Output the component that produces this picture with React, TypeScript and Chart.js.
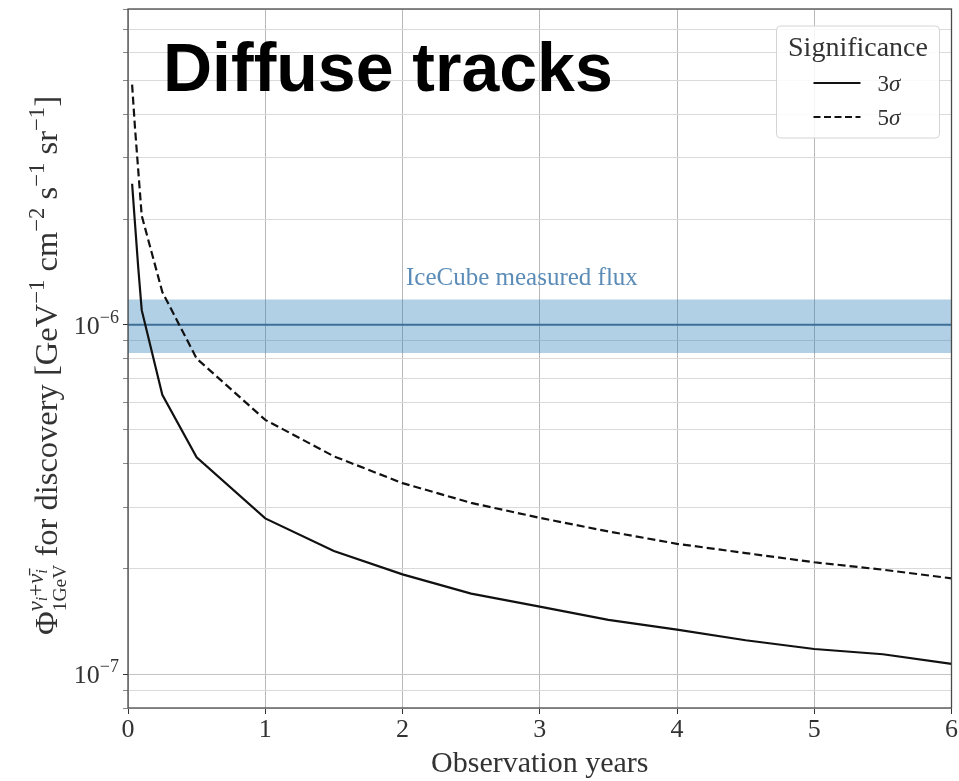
import React, { useEffect, useRef } from 'react';
import { Chart, registerables } from 'chart.js';

Chart.register(...registerables);

// ---- data ----
const YEARS_3SIGMA = [0.03, 0.05, 0.075, 0.1, 0.25, 0.5, 1, 1.5, 2, 2.5, 3, 3.5, 4, 4.5, 5, 5.5, 6];
const FLUX_3SIGMA = [2.53e-6, 1.97e-6, 1.45e-6, 1.1e-6, 0.63e-6, 0.417e-6, 0.279e-6, 0.225e-6, 0.193e-6, 0.17e-6, 0.156e-6, 0.143e-6, 0.134e-6, 0.125e-6, 0.118e-6, 0.114e-6, 0.107e-6];

const YEARS_5SIGMA = [0.03, 0.05, 0.075, 0.1, 0.25, 0.5, 1, 1.5, 2, 2.5, 3, 3.5, 4, 4.5, 5, 5.5, 6];
const FLUX_5SIGMA = [4.86e-6, 3.7e-6, 2.75e-6, 2.05e-6, 1.24e-6, 0.8e-6, 0.534e-6, 0.42e-6, 0.352e-6, 0.309e-6, 0.28e-6, 0.256e-6, 0.236e-6, 0.222e-6, 0.209e-6, 0.199e-6, 0.188e-6];

const BAND_YEARS = [0, 6];
const ICECUBE_FLUX = 1.0e-6;
const ICECUBE_LOW = 0.83e-6;
const ICECUBE_HIGH = 1.18e-6;

const X_MIN = 0;
const X_MAX = 6;
const Y_MIN = 8e-8;
const Y_MAX = 8e-6;
const Y_GRID_TICKS = [8e-8, 9e-8, 1e-7, 2e-7, 3e-7, 4e-7, 5e-7, 6e-7, 7e-7, 8e-7, 9e-7, 1e-6, 2e-6, 3e-6, 4e-6, 5e-6, 6e-6, 7e-6, 8e-6];
const Y_LABEL_TICKS = [1e-7, 1e-6];
const Y_LABEL_EXP = ['\u22127', '\u22126'];

const TITLE = 'Diffuse tracks';
const X_TITLE = 'Observation years';
const BAND_LABEL = 'IceCube measured flux';
const LEGEND_TITLE = 'Significance';
const LEGEND_LABELS = ['3', '5'];

const SERIF = '"Liberation Serif", "Times New Roman", serif';

type Atom = { t?: string; s: number; dy?: number; it?: boolean; stack?: Atom[][]; stackDy?: number[] };

function atomWidth(ctx: CanvasRenderingContext2D, a: Atom): number {
  if (a.stack) {
    return Math.max(...a.stack.map((run) => runWidth(ctx, run)));
  }
  ctx.font = `${a.it ? 'italic ' : ''}${a.s}px ${SERIF}`;
  return ctx.measureText(a.t || '').width;
}
function runWidth(ctx: CanvasRenderingContext2D, run: Atom[]): number {
  return run.reduce((w, a) => w + atomWidth(ctx, a), 0);
}
function drawRun(ctx: CanvasRenderingContext2D, run: Atom[], x: number, y: number): number {
  let cx = x;
  for (const a of run) {
    if (a.stack) {
      const w = atomWidth(ctx, a);
      a.stack.forEach((r, i) => drawRun(ctx, r, cx, y + (a.stackDy ? a.stackDy[i] : 0)));
      cx += w;
    } else {
      ctx.font = `${a.it ? 'italic ' : ''}${a.s}px ${SERIF}`;
      ctx.fillText(a.t || '', cx, y + (a.dy || 0));
      cx += ctx.measureText(a.t || '').width;
    }
  }
  return cx - x;
}

const overlayPlugin = {
  id: 'overlayPlugin',
  afterDatasetsDraw(chart: any) {
    const { ctx, chartArea: a, scales } = chart;
    const xs = scales.x;
    const ys = scales.y;
    ctx.save();
    ctx.textBaseline = 'alphabetic';

    // frame
    ctx.strokeStyle = '#4a4a4a';
    ctx.lineWidth = 1.3;
    ctx.strokeRect(a.left, a.top, a.right - a.left, a.bottom - a.top);

    // band label
    ctx.fillStyle = '#5b8cb8';
    ctx.font = `25px ${SERIF}`;
    ctx.textAlign = 'center';
    ctx.fillText(BAND_LABEL, xs.getPixelForValue(2.87), ys.getPixelForValue(1.3e-6));

    // big title
    ctx.fillStyle = '#000';
    ctx.textAlign = 'left';
    ctx.font = 'bold 68px "Liberation Sans", Arial, sans-serif';
    ctx.fillText(TITLE, a.left + 35, a.top + 82);

    // legend
    const lx = a.right - 175, ly = a.top + 17, lw = 163, lh = 112;
    ctx.fillStyle = 'rgba(255,255,255,0.85)';
    ctx.strokeStyle = '#d4d4d4';
    ctx.lineWidth = 1;
    ctx.beginPath();
    ctx.roundRect(lx, ly, lw, lh, 4);
    ctx.fill();
    ctx.stroke();
    ctx.fillStyle = '#333';
    ctx.textAlign = 'center';
    ctx.font = `28px ${SERIF}`;
    ctx.fillText(LEGEND_TITLE, lx + lw / 2, ly + 30);
    ctx.strokeStyle = '#111';
    ctx.lineWidth = 2;
    LEGEND_LABELS.forEach((lab, i) => {
      const yy = ly + 57 + i * 34;
      ctx.setLineDash(i === 0 ? [] : [7, 3.5]);
      ctx.beginPath();
      ctx.moveTo(lx + 37, yy);
      ctx.lineTo(lx + 84, yy);
      ctx.stroke();
      ctx.setLineDash([]);
      ctx.textAlign = 'left';
      drawRun(ctx, [{ t: lab, s: 23 }, { t: '\u03c3', s: 23, it: true }], lx + 101, yy + 8);
    });

    // y tick labels (10^n)
    ctx.fillStyle = '#333';
    Y_LABEL_TICKS.forEach((v, i) => {
      const py = ys.getPixelForValue(v);
      const run: Atom[] = [{ t: '10', s: 26 }, { t: Y_LABEL_EXP[i], s: 18, dy: -11 }];
      const w = runWidth(ctx, run);
      ctx.textAlign = 'left';
      drawRun(ctx, run, a.left - 9 - w, py + 9);
    });

    // y axis title (rotated)
    const S = 32.5;
    const sup = 0.7 * S;
    const ytitle: Atom[] = [
      { t: '\u03a6', s: S },
      {
        s: S,
        stack: [
          [
            { t: '\u03bd', s: sup, it: true },
            { t: 'i', s: 0.5 * S, it: true, dy: 4 },
            { t: '+', s: sup },
            { t: '\u03bd\u0304', s: sup, it: true },
            { t: 'i', s: 0.5 * S, it: true, dy: 4 },
          ],
          [{ t: '1GeV', s: 0.6 * S }],
        ],
        stackDy: [-14, 9],
      },
      { t: ' for discovery [GeV', s: S },
      { t: '\u22121', s: sup, dy: -13 },
      { t: ' cm', s: S },
      { t: '\u22122', s: sup, dy: -13 },
      { t: ' s', s: S },
      { t: '\u22121', s: sup, dy: -13 },
      { t: ' sr', s: S },
      { t: '\u22121', s: sup, dy: -13 },
      { t: ']', s: S },
    ];
    ctx.save();
    ctx.translate(57, (a.top + a.bottom) / 2 + 7);
    ctx.rotate(-Math.PI / 2);
    ctx.textAlign = 'left';
    const tw = runWidth(ctx, ytitle);
    drawRun(ctx, ytitle, -tw / 2, 0);
    ctx.restore();

    // x axis title
    ctx.textAlign = 'center';
    ctx.font = `30px ${SERIF}`;
    ctx.fillText(X_TITLE, (a.left + a.right) / 2, 772);

    ctx.restore();
  },
};

export default function App() {
  const ref = useRef<HTMLCanvasElement | null>(null);
  useEffect(() => {
    document.body.style.margin = '0';
    const canvas = ref.current!;
    const chart = new Chart(canvas, {
      type: 'line',
      data: {
        datasets: [
          {
            label: '3\u03c3',
            data: YEARS_3SIGMA.map((x, i) => ({ x, y: FLUX_3SIGMA[i] })),
            borderColor: '#111',
            borderWidth: 2.2,
            pointRadius: 0,
            fill: false,
            tension: 0,
          },
          {
            label: '5\u03c3',
            data: YEARS_5SIGMA.map((x, i) => ({ x, y: FLUX_5SIGMA[i] })),
            borderColor: '#111',
            borderWidth: 2.2,
            borderDash: [8, 4],
            pointRadius: 0,
            fill: false,
            tension: 0,
          },
          {
            label: 'IceCube',
            data: BAND_YEARS.map((x) => ({ x, y: ICECUBE_FLUX })),
            borderColor: '#3d6f98',
            borderWidth: 2,
            pointRadius: 0,
            fill: false,
          },
          {
            label: 'IceCube band',
            data: BAND_YEARS.map((x) => ({ x, y: ICECUBE_HIGH })),
            borderWidth: 0,
            borderColor: 'rgba(0,0,0,0)',
            backgroundColor: 'rgba(31,119,180,0.35)',
            pointRadius: 0,
            fill: { value: ICECUBE_LOW },
          },
        ],
      },
      options: {
        responsive: false,
        animation: false,
        devicePixelRatio: 1,
        layout: { padding: { left: 0, right: 7, top: 9, bottom: 0 } },
        plugins: { legend: { display: false }, tooltip: { enabled: false } },
        scales: {
          x: {
            type: 'linear',
            min: X_MIN,
            max: X_MAX,
            border: { display: false },
            grid: {
              color: '#b8b8b8',
              lineWidth: 1,
              tickColor: '#333',
              tickLength: 6,
            },
            ticks: {
              stepSize: 1,
              color: '#333',
              padding: 1,
              font: { family: SERIF, size: 26 },
              maxRotation: 0,
            },
            afterFit: (s: any) => {
              s.height = 73;
            },
          },
          y: {
            type: 'logarithmic',
            min: Y_MIN,
            max: Y_MAX,
            border: { display: false },
            afterBuildTicks: (s: any) => {
              s.ticks = Y_GRID_TICKS.map((v) => ({ value: v }));
            },
            grid: {
              color: (c: any) => (c.tick && Y_LABEL_TICKS.includes(c.tick.value) ? '#c4c4c4' : '#dadada'),
              lineWidth: 1,
              tickColor: (c: any) => (c.tick && Y_LABEL_TICKS.includes(c.tick.value) ? '#333' : '#888'),
              tickLength: 5,
            },
            ticks: { display: false },
            afterFit: (s: any) => {
              s.width = 128;
            },
          },
        },
      },
      plugins: [overlayPlugin],
    } as any);
    return () => chart.destroy();
  }, []);
  return (
    <div style={{ width: 959, height: 781, background: '#fff' }}>
      <canvas ref={ref} width={959} height={781} style={{ display: 'block' }} />
    </div>
  );
}
